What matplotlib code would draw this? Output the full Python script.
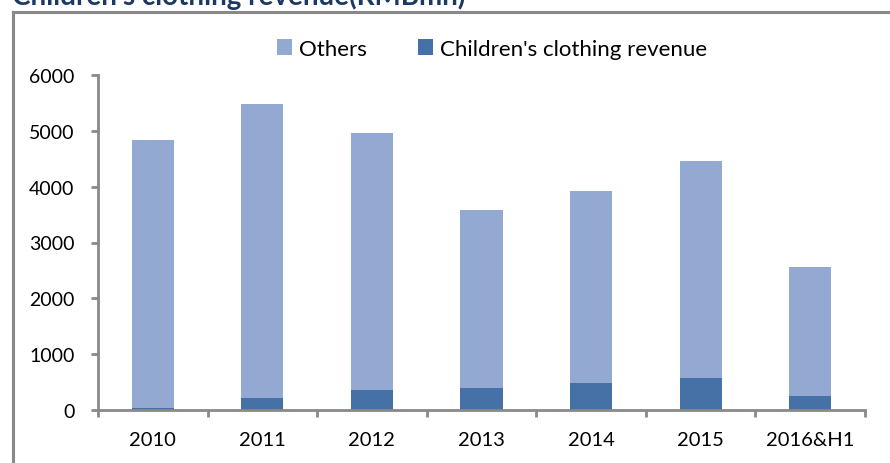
import matplotlib
matplotlib.use("Agg")
import matplotlib.pyplot as plt
from matplotlib.lines import Line2D
import numpy as np

categories = ["2010", "2011", "2012", "2013", "2014", "2015", "2016&H1"]
children = [40, 220, 364, 394, 489, 579, 256]
others = [4801, 5255, 4597, 3188, 3428, 3875, 2305]
yticks = [0, 1000, 2000, 3000, 4000, 5000, 6000]

c_others = "#94A9D1"
c_child = "#4671A6"
gray = "#898989"

plt.rcParams["font.family"] = ["Lato", "DejaVu Sans"]

W, H = 890, 464
fig = plt.figure(figsize=(W / 100, H / 100), dpi=100)
ax = fig.add_axes([98 / W, (H - 411) / H, (865 - 98) / W, (411 - 76) / H])

x = np.arange(len(categories))
bw = 0.385
ax.bar(x, children, bw, color=c_child, label="Children's clothing revenue", zorder=2)
ax.bar(x, others, bw, bottom=children, color=c_others, label="Others", zorder=2)

ax.set_xlim(-0.5, len(categories) - 0.5)
ax.set_ylim(0, 6000)
ax.set_yticks(yticks)
ax.set_yticklabels([str(v) for v in yticks])
ax.set_xticks(x)
ax.set_xticklabels(categories)
ax.set_xticks(np.arange(-0.5, len(categories)), minor=True)

for s in ["top", "right"]:
    ax.spines[s].set_visible(False)
for s in ["left", "bottom"]:
    ax.spines[s].set_color(gray)
    ax.spines[s].set_linewidth(2.0)

ax.tick_params(axis="y", direction="out", length=5, width=2, color=gray,
               labelsize=14, pad=12, labelcolor="black")
ax.tick_params(axis="x", which="major", length=0, labelsize=14.5, pad=15,
               labelcolor="black")
ax.tick_params(axis="x", which="minor", direction="out", length=5, width=2,
               color=gray)

handles, labels = ax.get_legend_handles_labels()
leg = fig.legend([handles[1], handles[0]], [labels[1], labels[0]],
                 loc="center", bbox_to_anchor=(492 / W, 1 - 50 / H), ncol=2,
                 frameon=False, fontsize=16, handlelength=0.7,
                 handleheight=0.7, handletextpad=0.3, columnspacing=2.3)

# outer border (partially visible)
fig.add_artist(Line2D([13 / W, 13 / W], [0, 1 - 13 / H], transform=fig.transFigure,
                      color=gray, linewidth=2.2))
fig.add_artist(Line2D([13 / W, 1.0], [1 - 13 / H, 1 - 13 / H], transform=fig.transFigure,
                      color=gray, linewidth=2.2))

# title, cut off at top as in the reference
fig.text(12 / W, 1 - 5 / H, "Children's clothing revenue(RMBmn)", ha="left",
         va="baseline", fontsize=20, fontweight="bold", color="#1B3A63")

fig.savefig("out.png", dpi=100)
